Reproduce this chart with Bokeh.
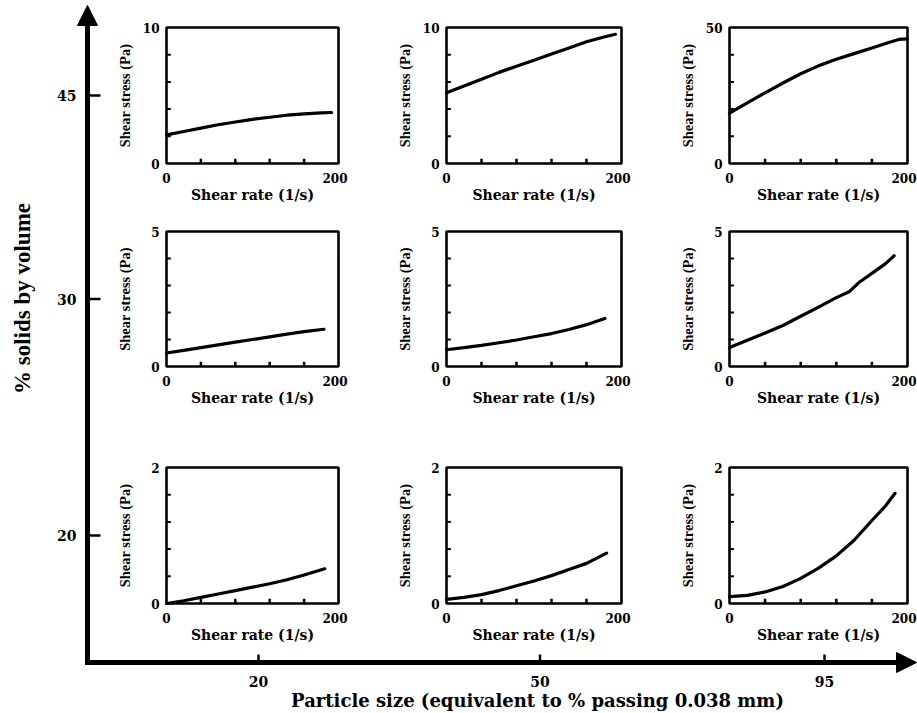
import math
from bokeh.plotting import figure
from bokeh.models import Range1d, Arrow, NormalHead
from bokeh.core.properties import value
from bokeh.embed import file_html
from bokeh.resources import INLINE

W, H = 917, 713

# Outer grid: particle size (columns) and solids concentration (rows, top to bottom)
particle_size = ["20", "50", "95"]
solids_volume = ["45", "30", "20"]

# Shear-stress axis maxima of each panel [row][col]
stress_max = [[10, 10, 50], [5, 5, 5], [2, 2, 2]]
rate_ticks = [0, 40, 80, 120, 160, 200]

# Flow curves: shear rate (1/s) and shear stress (Pa)
rate_45_20 = [0, 20, 40, 60, 80, 100, 120, 140, 160, 180, 192]
stress_45_20 = [2.1, 2.35, 2.6, 2.85, 3.05, 3.25, 3.4, 3.55, 3.65, 3.72, 3.75]
rate_45_50 = [0, 20, 40, 60, 80, 100, 120, 140, 160, 180, 193]
stress_45_50 = [5.2, 5.7, 6.2, 6.7, 7.15, 7.6, 8.05, 8.5, 8.95, 9.3, 9.5]
rate_45_95 = [0, 20, 40, 60, 80, 100, 120, 140, 160, 180, 190, 200]
stress_45_95 = [18.5, 22.3, 26.0, 29.6, 33.0, 35.9, 38.3, 40.4, 42.5, 44.6, 45.6, 45.8]

rate_30_20 = [0, 20, 40, 60, 80, 100, 120, 140, 160, 183]
stress_30_20 = [0.5, 0.6, 0.7, 0.8, 0.9, 1.0, 1.1, 1.2, 1.29, 1.38]
rate_30_50 = [0, 20, 40, 60, 80, 100, 120, 140, 160, 181]
stress_30_50 = [0.62, 0.7, 0.78, 0.88, 0.98, 1.1, 1.22, 1.37, 1.55, 1.78]
rate_30_95 = [0, 20, 40, 60, 80, 100, 120, 135, 145, 160, 175, 185]
stress_30_95 = [0.7, 0.97, 1.24, 1.52, 1.86, 2.2, 2.55, 2.78, 3.1, 3.45, 3.8, 4.1]

rate_20_20 = [0, 20, 40, 60, 80, 100, 120, 140, 160, 184]
stress_20_20 = [0.0, 0.04, 0.09, 0.14, 0.19, 0.24, 0.29, 0.35, 0.42, 0.51]
rate_20_50 = [0, 20, 40, 60, 80, 100, 120, 140, 160, 183]
stress_20_50 = [0.06, 0.09, 0.13, 0.19, 0.26, 0.33, 0.41, 0.5, 0.59, 0.74]
rate_20_95 = [0, 20, 40, 60, 80, 100, 120, 140, 160, 175, 186]
stress_20_95 = [0.1, 0.12, 0.17, 0.25, 0.37, 0.52, 0.7, 0.93, 1.22, 1.43, 1.62]

curves = [
    [(rate_45_20, stress_45_20), (rate_45_50, stress_45_50), (rate_45_95, stress_45_95)],
    [(rate_30_20, stress_30_20), (rate_30_50, stress_30_50), (rate_30_95, stress_30_95)],
    [(rate_20_20, stress_20_20), (rate_20_50, stress_20_50), (rate_20_95, stress_20_95)],
]

# Panel frames on the page (pixels)
col_px = [(166, 338), (446, 621), (729, 907)]
row_px = [(27, 163), (231, 366), (467, 603)]
AX_X, AX_Y = 87, 662

WIDE = value("DejaVu Serif")
SERIF = value("Liberation Serif")

p = figure(width=W, height=H, x_range=Range1d(0, W), y_range=Range1d(H, 0),
           output_backend="svg", toolbar_location=None, min_border=0,
           x_axis_location=None, y_axis_location=None)
p.grid.visible = False
p.outline_line_color = None
p.background_fill_color = "white"
p.border_fill_color = "white"


def draw_panel(ri, ci):
    x0, x1 = col_px[ci]
    top, bottom = row_px[ri]
    ymax = stress_max[ri][ci]
    rate, stress = curves[ri][ci]
    sub = p.subplot(x_source=Range1d(0, 200), y_source=Range1d(0, ymax),
                    x_target=Range1d(x0, x1), y_target=Range1d(bottom, top))
    inner_x = rate_ticks[1:-1]
    sub.segment(x0=inner_x, y0=0, x1=inner_x, y1=ymax * 0.035,
                line_color="black", line_width=2.5)
    inner_y = [ymax * k / 5 for k in range(1, 5)]
    sub.segment(x0=0, y0=inner_y, x1=5, y1=inner_y,
                line_color="black", line_width=2)
    sub.line(rate, stress, line_color="black", line_width=3.2, line_cap="round",
             line_join="round")
    sub.quad(left=0, right=200, bottom=0, top=ymax, fill_color=None,
             line_color="black", line_width=2.6)
    sub.text(x=0, y=[0, ymax], text=["0", str(ymax)], x_offset=-7,
             text_align="right", text_baseline="middle", text_font=WIDE,
             text_font_style="bold", text_font_size="12px", text_color="black")
    sub.text(x=[0], y=0, text=[str(rate_ticks[0])],
             y_offset=14, text_align="center", text_baseline="middle",
             text_font=WIDE, text_font_style="bold", text_font_size="12px",
             text_color="black")
    sub.text(x=[200], y=0, text=[str(rate_ticks[-1])], x_offset=9,
             y_offset=14, text_align="right", text_baseline="middle",
             text_font=WIDE, text_font_style="bold", text_font_size="12px",
             text_color="black")
    sub.text(x=[100], y=0, text=["Shear rate (1/s)"], y_offset=31,
             text_align="center", text_baseline="middle", text_font=WIDE,
             text_font_style="bold", text_font_size="14px", text_color="black")
    sub.text(x=[0], y=[ymax / 2], text=["Shear stress (Pa)"], x_offset=-42,
             angle=math.pi / 2, text_align="center", text_baseline="middle",
             text_font=SERIF, text_font_style="bold", text_font_size="14.5px",
             text_color="black")


for ri in range(3):
    for ci in range(3):
        draw_panel(ri, ci)

# Outer axes with arrow heads
p.add_layout(Arrow(end=NormalHead(size=20, fill_color="black", line_color="black"),
                   x_start=AX_X, y_start=AX_Y + 2.5, x_end=AX_X, y_end=5,
                   line_color="black", line_width=5))
p.add_layout(Arrow(end=NormalHead(size=20, fill_color="black", line_color="black"),
                   x_start=AX_X - 2.5, y_start=AX_Y, x_end=916, y_end=AX_Y,
                   line_color="black", line_width=5))

big_x = [(a + b) / 2 + 6 for a, b in col_px]
big_y = [(a + b) / 2 for a, b in row_px]
p.segment(x0=big_x, y0=AX_Y, x1=big_x, y1=AX_Y - 8, line_color="black", line_width=2.5)
p.segment(x0=AX_X, y0=big_y, x1=AX_X + 13, y1=big_y, line_color="black", line_width=2.5)
p.text(x=big_x, y=AX_Y, text=particle_size, y_offset=19, text_align="center",
       text_baseline="middle", text_font=WIDE, text_font_style="bold",
       text_font_size="14px", text_color="black")
p.text(x=AX_X, y=big_y, text=solids_volume, x_offset=-11, text_align="right",
       text_baseline="middle", text_font=WIDE, text_font_style="bold",
       text_font_size="14px", text_color="black")
p.text(x=[537], y=[AX_Y], text=["Particle size (equivalent to % passing 0.038 mm)"],
       y_offset=38, text_align="center", text_baseline="middle", text_font=WIDE,
       text_font_style="bold", text_font_size="18px", text_color="black")
p.text(x=[AX_X], y=[298], text=["% solids by volume"], x_offset=-65,
       angle=math.pi / 2, text_align="center", text_baseline="middle",
       text_font=SERIF, text_font_style="bold", text_font_size="23px",
       text_color="black")

open("out.html", "w").write(file_html(p, INLINE))
